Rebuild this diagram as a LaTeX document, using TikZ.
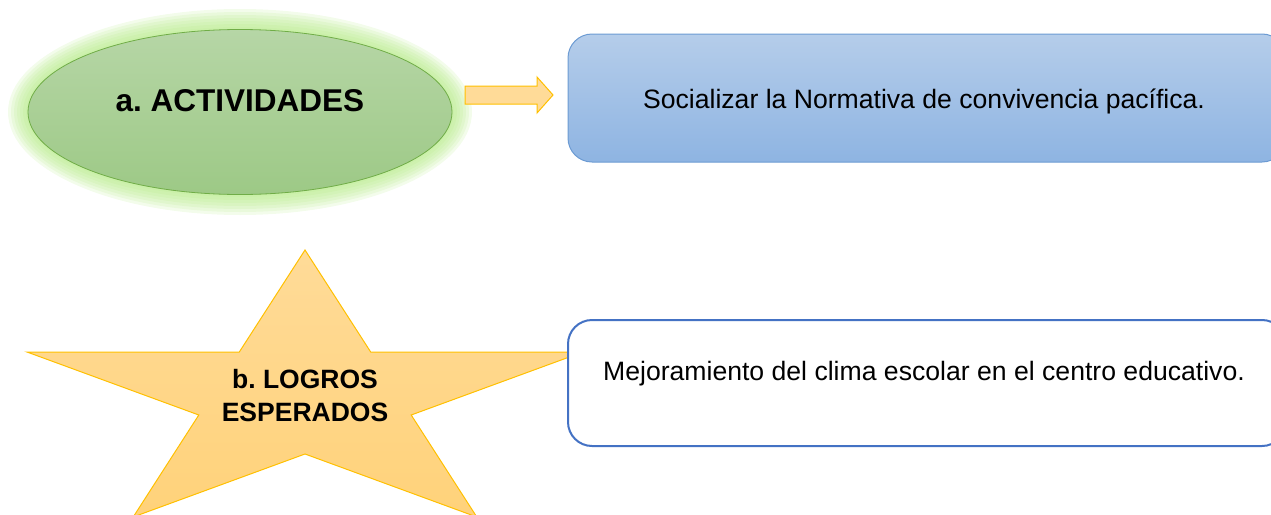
\documentclass[tikz,border=0pt]{standalone}
\usepackage{fontspec}
\setmainfont{Liberation Sans}
\usetikzlibrary{shapes.geometric}
\frenchspacing
\definecolor{glowgreen}{HTML}{B4EA84}
\definecolor{elltop}{HTML}{B6D6A6}
\definecolor{ellbot}{HTML}{9DC986}
\definecolor{elledge}{HTML}{70AD47}
\definecolor{startop}{HTML}{FFDB98}
\definecolor{starbot}{HTML}{FFD27A}
\definecolor{staredge}{HTML}{FFC000}
\definecolor{bluetop}{HTML}{B5CDEA}
\definecolor{bluebot}{HTML}{8EB4E2}
\definecolor{blueedge}{HTML}{6C9BD3}
\definecolor{box2edge}{HTML}{4472C4}
\tikzset{
  actell/.style={ellipse, draw=elledge, line width=0.8pt, top color=elltop, bottom color=ellbot,
    minimum width=424pt, minimum height=165pt, inner sep=0pt,
    font=\fontsize{31.5}{36}\selectfont\bfseries},
  bluebox/.style={rectangle, rounded corners=24pt, draw=blueedge, line width=1pt,
    top color=bluetop, bottom color=bluebot, minimum width=718pt, minimum height=128pt,
    inner sep=0pt, font=\fontsize{26.6}{30}\selectfont},
  whitebox/.style={rectangle, rounded corners=24pt, draw=box2edge, line width=2pt,
    fill=white, minimum width=718pt, minimum height=126pt,
    inner sep=0pt, font=\fontsize{26.6}{30}\selectfont},
  starshape/.style={draw=staredge, line width=1pt, top color=startop, bottom color=starbot},
  blockarrow/.style={draw=staredge, line width=1pt, fill=startop},
  startext/.style={align=center, font=\fontsize{26.5}{33}\selectfont\bfseries}
}
\begin{document}
\begin{tikzpicture}[x=1pt,y=-1pt]
\useasboundingbox (0,0) rectangle (1271,514);
% glow behind ellipse
\foreach \d in {20,17,...,2}
  \fill[glowgreen, opacity=0.16] (240,112) ellipse [x radius=212pt+\d pt, y radius=83pt+\d pt];
\node[actell] (act) at (240,112) {\raisebox{1pt}[0pt][0pt]{a. ACTIVIDADES}};
% block arrow
\draw[blockarrow] (465,86) -- (537,86) -- (537,77) -- (553,95) -- (537,113) -- (537,104) -- (465,104) -- cycle;
% blue box
\node[bluebox] (soc) at (927,98) {\hspace*{-6pt}\raisebox{-10pt}[0pt][0pt]{Socializar la Normativa de convivencia pacífica.}};
% star
\draw[starshape] (305,250) -- (370.7,352) -- (583,352) -- (411.2,415) -- (476.8,517)
  -- (305,454) -- (133.2,517) -- (198.8,415) -- (27,352) -- (239.3,352) -- cycle;
\node[startext] (logros) at (305,396) {b. LOGROS\\ESPERADOS};
% white box
\node[whitebox] (mej) at (927,383) {\hspace*{-6pt}\raisebox{3pt}[0pt][0pt]{Mejoramiento del clima escolar en el centro educativo.}};
\end{tikzpicture}
\end{document}
